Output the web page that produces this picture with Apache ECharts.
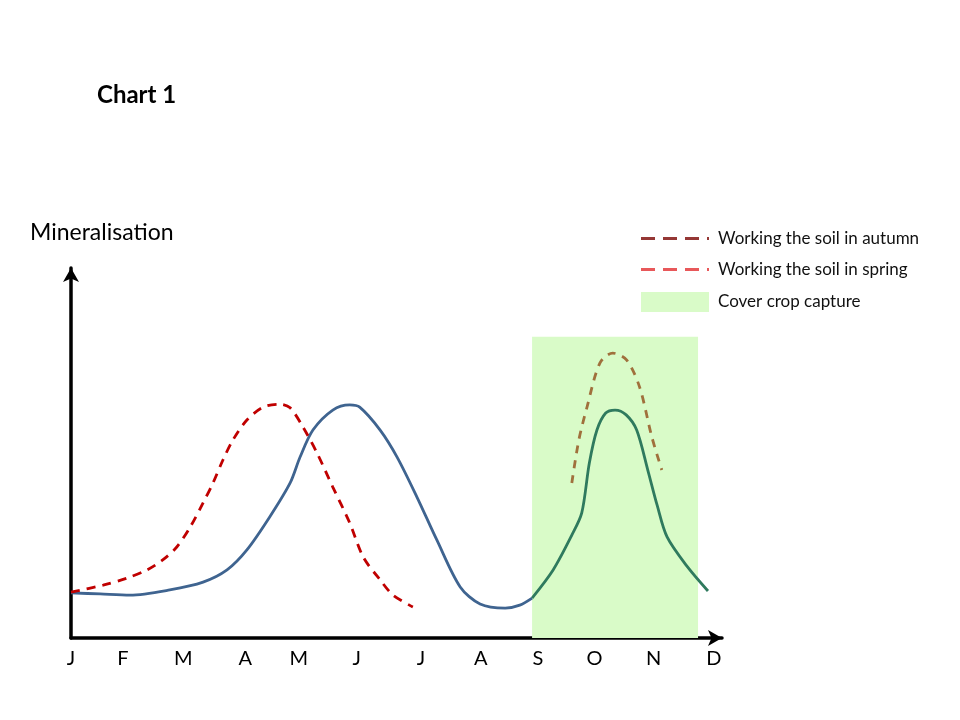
<!DOCTYPE html>
<html><head><meta charset="utf-8">
<script src="https://cdn.jsdelivr.net/npm/echarts@6/dist/echarts.min.js"></script>
<style>html,body{margin:0;padding:0;background:#fff}#c{width:960px;height:720px}</style>
</head><body><div id="c"></div>
<script>
// Months (x = month index 0..11), values on arbitrary 0-100 mineralisation scale
var months = ['J','F','M','A','M','J','J','A','S','O','N','D'];
var monthTicks = [0, 0.89, 1.92, 2.98, 3.90, 4.89, 5.99, 7.01, 7.99, 8.96, 9.97, 11.0];
var baseline = [[0,12.2],[0.5,11.9],[1.01,11.6],[1.69,13.0],[2.26,15.1],[2.67,18.4],[3.01,23.8],[3.40,32.7],[3.75,41.9],[3.92,48.9],[4.14,56.2],[4.48,61.6],[4.77,63.0],[4.94,62.4],[5.29,56.2],[5.58,48.9],[5.92,38.1],[6.26,26.5],[6.66,13.8],[7.0,9.2],[7.43,8.1],[7.68,8.9],[7.89,10.8]];
var coverCrop = [[7.89,10.8],[8.25,18.4],[8.57,27.8],[8.74,33.8],[8.87,47.3],[9.0,56.2],[9.15,60.8],[9.31,61.6],[9.5,60.3],[9.68,56.2],[9.87,45.4],[10.03,35.9],[10.2,27.3],[10.55,19.2],[10.9,12.7]];
var autumn = [[8.57,41.9],[8.69,53.5],[8.83,62.4],[9.05,74.3],[9.27,77.0],[9.51,75.1],[9.73,67.8],[9.94,54.3],[10.11,45.4]];
var spring = [[0,12.4],[0.55,14.3],[0.96,16.2],[1.30,18.4],[1.57,21.1],[1.81,24.6],[2.04,30.0],[2.26,36.5],[2.43,41.9],[2.60,48.1],[2.77,53.5],[3.01,58.9],[3.29,62.4],[3.58,63.2],[3.75,62.2],[3.97,57.0],[4.21,50.0],[4.48,40.8],[4.77,31.1],[5.0,21.9],[5.29,15.7],[5.51,11.6],[5.85,8.4]];
var captureWindow = [7.89, 10.73, 81.4]; // start month, end month, height

var FONT = 'Lato, "Open Sans", sans-serif';
var DASH_ICON = 'path://M0,9H14V12H0Z M22,9H36V12H22Z M44,9H58V12H44Z M66,9H68V12H66Z';
var chart = echarts.init(document.getElementById('c'));
chart.setOption({
  animation: false,
  backgroundColor: '#fff',
  title: [
    {text: 'Chart 1', left: 92, top: 78, textStyle: {fontFamily: FONT, fontSize: 24, fontWeight: 'bold', color: '#000'}},
    {text: 'Mineralisation', left: 25, top: 216, textStyle: {fontFamily: FONT, fontSize: 23, fontWeight: 'normal', color: '#000'}}
  ],
  legend: {
    orient: 'vertical', left: 641, top: 230, padding: 0, itemWidth: 68, itemHeight: 20, itemGap: 14,
    textStyle: {fontFamily: FONT, fontSize: 17, color: '#111', padding: [0,0,0,4]},
    data: [
      {name: 'Working the soil in autumn', icon: DASH_ICON, itemStyle: {color: '#953735'}},
      {name: 'Working the soil in spring', icon: DASH_ICON, itemStyle: {color: '#E8585A'}},
      {name: 'Cover crop capture', icon: 'rect', itemStyle: {color: '#D9FBC8'}}
    ]
  },
  grid: {left: 71, right: 238, top: 268, bottom: 82},
  xAxis: {
    type: 'value', min: 0, max: 11.14,
    splitLine: {show: false}, axisTick: {show: false},
    axisLine: {lineStyle: {color: '#000', width: 3.5}, symbol: ['none','arrow'], symbolSize: [12, 14]},
    axisLabel: {margin: 11, fontFamily: FONT, fontSize: 20, color: '#000', customValues: monthTicks,
      formatter: function(v){ var i = monthTicks.indexOf(v); return i >= 0 ? months[i] : ''; }}
  },
  yAxis: {
    type: 'value', min: 0, max: 100,
    splitLine: {show: false}, axisTick: {show: false}, axisLabel: {show: false},
    axisLine: {show: true, lineStyle: {color: '#000', width: 3.5}, symbol: ['none','arrow'], symbolSize: [12, 14]}
  },
  series: [
    {name: 'Cover crop capture', type: 'line', data: [], symbol: 'none', z: 1,
      itemStyle: {color: '#D9FBC8'},
      markArea: {silent: true, itemStyle: {color: '#D9FBC8', opacity: 1},
        data: [[{xAxis: captureWindow[0], yAxis: 0}, {xAxis: captureWindow[1], yAxis: captureWindow[2]}]]}},
    {name: 'Baseline', type: 'line', data: baseline, symbol: 'none', smooth: 0.3,
      lineStyle: {color: '#3F6490', width: 2.8}, z: 3},
    {name: 'Cover crop', type: 'line', data: coverCrop, symbol: 'none', smooth: 0.3,
      lineStyle: {color: '#2F7A5E', width: 2.8}, z: 3},
    {name: 'Working the soil in autumn', type: 'line', data: autumn, symbol: 'none', smooth: 0.3,
      itemStyle: {color: '#953735'},
      lineStyle: {color: '#A0703C', width: 2.8, type: [8, 7]}, z: 4},
    {name: 'Working the soil in spring', type: 'line', data: spring, symbol: 'none', smooth: 0.3,
      itemStyle: {color: '#E8585A'},
      lineStyle: {color: '#C00000', width: 2.8, type: [9, 7]}, z: 4}
  ]
});
</script></body></html>
